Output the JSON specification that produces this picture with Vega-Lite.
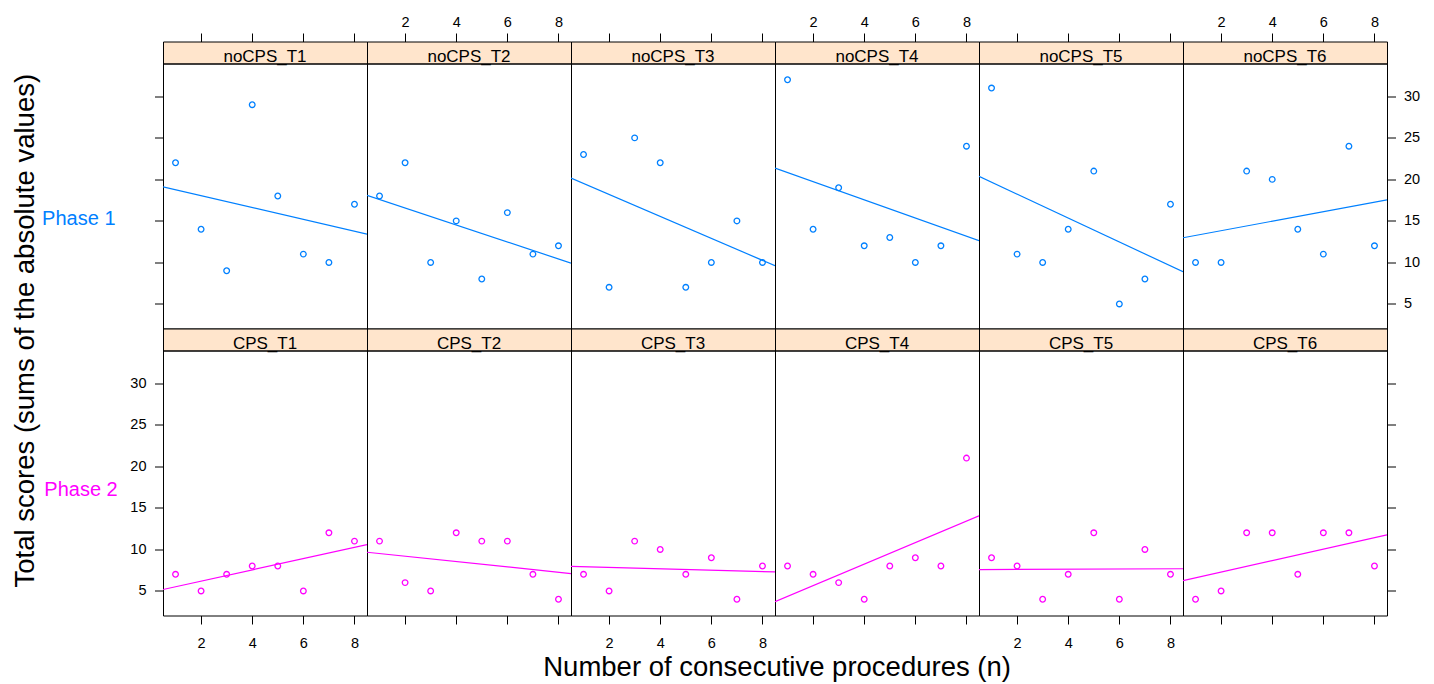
{
  "$schema": "https://vega.github.io/schema/vega-lite/v6.json",
  "padding": {"left": 11, "top": 13.5, "right": 5, "bottom": 5},
  "background": "white",
  "spacing": 0,
  "columns": 6,
  "bounds": "flush",
  "align": "each",
  "datasets": {
    "scores": [
      {"panel": "noCPS_T1", "x": 1, "y": 22}, {"panel": "noCPS_T1", "x": 2, "y": 14}, {"panel": "noCPS_T1", "x": 3, "y": 9}, {"panel": "noCPS_T1", "x": 4, "y": 29},
      {"panel": "noCPS_T1", "x": 5, "y": 18}, {"panel": "noCPS_T1", "x": 6, "y": 11}, {"panel": "noCPS_T1", "x": 7, "y": 10}, {"panel": "noCPS_T1", "x": 8, "y": 17},
      {"panel": "noCPS_T2", "x": 1, "y": 18}, {"panel": "noCPS_T2", "x": 2, "y": 22}, {"panel": "noCPS_T2", "x": 3, "y": 10}, {"panel": "noCPS_T2", "x": 4, "y": 15},
      {"panel": "noCPS_T2", "x": 5, "y": 8}, {"panel": "noCPS_T2", "x": 6, "y": 16}, {"panel": "noCPS_T2", "x": 7, "y": 11}, {"panel": "noCPS_T2", "x": 8, "y": 12},
      {"panel": "noCPS_T3", "x": 1, "y": 23}, {"panel": "noCPS_T3", "x": 2, "y": 7}, {"panel": "noCPS_T3", "x": 3, "y": 25}, {"panel": "noCPS_T3", "x": 4, "y": 22},
      {"panel": "noCPS_T3", "x": 5, "y": 7}, {"panel": "noCPS_T3", "x": 6, "y": 10}, {"panel": "noCPS_T3", "x": 7, "y": 15}, {"panel": "noCPS_T3", "x": 8, "y": 10},
      {"panel": "noCPS_T4", "x": 1, "y": 32}, {"panel": "noCPS_T4", "x": 2, "y": 14}, {"panel": "noCPS_T4", "x": 3, "y": 19}, {"panel": "noCPS_T4", "x": 4, "y": 12},
      {"panel": "noCPS_T4", "x": 5, "y": 13}, {"panel": "noCPS_T4", "x": 6, "y": 10}, {"panel": "noCPS_T4", "x": 7, "y": 12}, {"panel": "noCPS_T4", "x": 8, "y": 24},
      {"panel": "noCPS_T5", "x": 1, "y": 31}, {"panel": "noCPS_T5", "x": 2, "y": 11}, {"panel": "noCPS_T5", "x": 3, "y": 10}, {"panel": "noCPS_T5", "x": 4, "y": 14},
      {"panel": "noCPS_T5", "x": 5, "y": 21}, {"panel": "noCPS_T5", "x": 6, "y": 5}, {"panel": "noCPS_T5", "x": 7, "y": 8}, {"panel": "noCPS_T5", "x": 8, "y": 17},
      {"panel": "noCPS_T6", "x": 1, "y": 10}, {"panel": "noCPS_T6", "x": 2, "y": 10}, {"panel": "noCPS_T6", "x": 3, "y": 21}, {"panel": "noCPS_T6", "x": 4, "y": 20},
      {"panel": "noCPS_T6", "x": 5, "y": 14}, {"panel": "noCPS_T6", "x": 6, "y": 11}, {"panel": "noCPS_T6", "x": 7, "y": 24}, {"panel": "noCPS_T6", "x": 8, "y": 12},
      {"panel": "CPS_T1", "x": 1, "y": 7}, {"panel": "CPS_T1", "x": 2, "y": 5}, {"panel": "CPS_T1", "x": 3, "y": 7}, {"panel": "CPS_T1", "x": 4, "y": 8},
      {"panel": "CPS_T1", "x": 5, "y": 8}, {"panel": "CPS_T1", "x": 6, "y": 5}, {"panel": "CPS_T1", "x": 7, "y": 12}, {"panel": "CPS_T1", "x": 8, "y": 11},
      {"panel": "CPS_T2", "x": 1, "y": 11}, {"panel": "CPS_T2", "x": 2, "y": 6}, {"panel": "CPS_T2", "x": 3, "y": 5}, {"panel": "CPS_T2", "x": 4, "y": 12},
      {"panel": "CPS_T2", "x": 5, "y": 11}, {"panel": "CPS_T2", "x": 6, "y": 11}, {"panel": "CPS_T2", "x": 7, "y": 7}, {"panel": "CPS_T2", "x": 8, "y": 4},
      {"panel": "CPS_T3", "x": 1, "y": 7}, {"panel": "CPS_T3", "x": 2, "y": 5}, {"panel": "CPS_T3", "x": 3, "y": 11}, {"panel": "CPS_T3", "x": 4, "y": 10},
      {"panel": "CPS_T3", "x": 5, "y": 7}, {"panel": "CPS_T3", "x": 6, "y": 9}, {"panel": "CPS_T3", "x": 7, "y": 4}, {"panel": "CPS_T3", "x": 8, "y": 8},
      {"panel": "CPS_T4", "x": 1, "y": 8}, {"panel": "CPS_T4", "x": 2, "y": 7}, {"panel": "CPS_T4", "x": 3, "y": 6}, {"panel": "CPS_T4", "x": 4, "y": 4},
      {"panel": "CPS_T4", "x": 5, "y": 8}, {"panel": "CPS_T4", "x": 6, "y": 9}, {"panel": "CPS_T4", "x": 7, "y": 8}, {"panel": "CPS_T4", "x": 8, "y": 21},
      {"panel": "CPS_T5", "x": 1, "y": 9}, {"panel": "CPS_T5", "x": 2, "y": 8}, {"panel": "CPS_T5", "x": 3, "y": 4}, {"panel": "CPS_T5", "x": 4, "y": 7},
      {"panel": "CPS_T5", "x": 5, "y": 12}, {"panel": "CPS_T5", "x": 6, "y": 4}, {"panel": "CPS_T5", "x": 7, "y": 10}, {"panel": "CPS_T5", "x": 8, "y": 7},
      {"panel": "CPS_T6", "x": 1, "y": 4}, {"panel": "CPS_T6", "x": 2, "y": 5}, {"panel": "CPS_T6", "x": 3, "y": 12}, {"panel": "CPS_T6", "x": 4, "y": 12},
      {"panel": "CPS_T6", "x": 5, "y": 7}, {"panel": "CPS_T6", "x": 6, "y": 12}, {"panel": "CPS_T6", "x": 7, "y": 12}, {"panel": "CPS_T6", "x": 8, "y": 8}
    ]
  },
  "concat": [
    {"width": 204, "height": 22, "view": {"fill": "#ffe5cc", "stroke": "black"}, "data": {"values": [{"label": "noCPS_T1"}]}, "mark": {"type": "text", "baseline": "alphabetic", "dy": 9},
     "encoding": {"text": {"field": "label"},
       "x": {"datum": 4.5, "type": "quantitative", "scale": {"domain": [0.51, 8.49], "nice": false, "zero": false}, "axis": {"orient": "top", "values": [2, 4, 6, 8], "labels": false, "title": null}},
       "y": {"datum": 1, "type": "quantitative", "scale": {"domain": [0, 2], "nice": false, "zero": false}, "axis": {"orient": "left", "ticks": false, "labels": false, "title": "Total scores (sums of the absolute values)", "titleAngle": -90, "titleX": -129.4, "titleY": 288.7, "titleAlign": "center", "titleBaseline": "alphabetic", "titleFontSize": 27.5}}}},
    {"width": 204, "height": 22, "view": {"fill": "#ffe5cc", "stroke": "black"}, "data": {"values": [{"label": "noCPS_T2"}]}, "mark": {"type": "text", "baseline": "alphabetic", "dy": 9},
     "encoding": {"text": {"field": "label"}, "x": {"datum": 4.5, "type": "quantitative", "scale": {"domain": [0.51, 8.49], "nice": false, "zero": false}, "axis": {"orient": "top", "values": [2, 4, 6, 8], "title": null}}}},
    {"width": 204, "height": 22, "view": {"fill": "#ffe5cc", "stroke": "black"}, "data": {"values": [{"label": "noCPS_T3"}]}, "mark": {"type": "text", "baseline": "alphabetic", "dy": 9},
     "encoding": {"text": {"field": "label"}, "x": {"datum": 4.5, "type": "quantitative", "scale": {"domain": [0.51, 8.49], "nice": false, "zero": false}, "axis": {"orient": "top", "values": [2, 4, 6, 8], "labels": false, "title": null}}}},
    {"width": 204, "height": 22, "view": {"fill": "#ffe5cc", "stroke": "black"}, "data": {"values": [{"label": "noCPS_T4"}]}, "mark": {"type": "text", "baseline": "alphabetic", "dy": 9},
     "encoding": {"text": {"field": "label"}, "x": {"datum": 4.5, "type": "quantitative", "scale": {"domain": [0.51, 8.49], "nice": false, "zero": false}, "axis": {"orient": "top", "values": [2, 4, 6, 8], "title": null}}}},
    {"width": 204, "height": 22, "view": {"fill": "#ffe5cc", "stroke": "black"}, "data": {"values": [{"label": "noCPS_T5"}]}, "mark": {"type": "text", "baseline": "alphabetic", "dy": 9},
     "encoding": {"text": {"field": "label"}, "x": {"datum": 4.5, "type": "quantitative", "scale": {"domain": [0.51, 8.49], "nice": false, "zero": false}, "axis": {"orient": "top", "values": [2, 4, 6, 8], "labels": false, "title": null}}}},
    {"width": 204, "height": 22, "view": {"fill": "#ffe5cc", "stroke": "black"}, "data": {"values": [{"label": "noCPS_T6"}]}, "mark": {"type": "text", "baseline": "alphabetic", "dy": 9},
     "encoding": {"text": {"field": "label"}, "x": {"datum": 4.5, "type": "quantitative", "scale": {"domain": [0.51, 8.49], "nice": false, "zero": false}, "axis": {"orient": "top", "values": [2, 4, 6, 8], "title": null}}}},

    {"width": 204, "height": 265, "data": {"name": "scores"}, "transform": [{"filter": "datum.panel === 'noCPS_T1'"}],
     "encoding": {"x": {"field": "x", "type": "quantitative", "scale": {"domain": [0.51, 8.49], "nice": false, "zero": false}, "axis": null},
       "y": {"field": "y", "type": "quantitative", "scale": {"domain": [2.04, 33.96], "nice": false, "zero": false}, "axis": {"orient": "left", "values": [5, 10, 15, 20, 25, 30], "labels": false, "title": "Phase 1", "titleAngle": 0, "titleX": -84.7, "titleY": 160.7, "titleAlign": "center", "titleBaseline": "alphabetic", "titleFontSize": 20, "titleColor": "#0080ff"}}},
     "layer": [{"mark": {"type": "point", "color": "#0080ff"}}, {"transform": [{"regression": "y", "on": "x", "extent": [0.51, 8.49]}], "mark": {"type": "line", "color": "#0080ff", "clip": true}, "encoding": {}}]},
    {"width": 204, "height": 265, "data": {"name": "scores"}, "transform": [{"filter": "datum.panel === 'noCPS_T2'"}],
     "encoding": {"x": {"field": "x", "type": "quantitative", "scale": {"domain": [0.51, 8.49], "nice": false, "zero": false}, "axis": null},
       "y": {"field": "y", "type": "quantitative", "scale": {"domain": [2.04, 33.96], "nice": false, "zero": false}, "axis": null}},
     "layer": [{"mark": {"type": "point", "color": "#0080ff"}}, {"transform": [{"regression": "y", "on": "x", "extent": [0.51, 8.49]}], "mark": {"type": "line", "color": "#0080ff", "clip": true}, "encoding": {}}]},
    {"width": 204, "height": 265, "data": {"name": "scores"}, "transform": [{"filter": "datum.panel === 'noCPS_T3'"}],
     "encoding": {"x": {"field": "x", "type": "quantitative", "scale": {"domain": [0.51, 8.49], "nice": false, "zero": false}, "axis": null},
       "y": {"field": "y", "type": "quantitative", "scale": {"domain": [2.04, 33.96], "nice": false, "zero": false}, "axis": null}},
     "layer": [{"mark": {"type": "point", "color": "#0080ff"}}, {"transform": [{"regression": "y", "on": "x", "extent": [0.51, 8.49]}], "mark": {"type": "line", "color": "#0080ff", "clip": true}, "encoding": {}}]},
    {"width": 204, "height": 265, "data": {"name": "scores"}, "transform": [{"filter": "datum.panel === 'noCPS_T4'"}],
     "encoding": {"x": {"field": "x", "type": "quantitative", "scale": {"domain": [0.51, 8.49], "nice": false, "zero": false}, "axis": null},
       "y": {"field": "y", "type": "quantitative", "scale": {"domain": [2.04, 33.96], "nice": false, "zero": false}, "axis": null}},
     "layer": [{"mark": {"type": "point", "color": "#0080ff"}}, {"transform": [{"regression": "y", "on": "x", "extent": [0.51, 8.49]}], "mark": {"type": "line", "color": "#0080ff", "clip": true}, "encoding": {}}]},
    {"width": 204, "height": 265, "data": {"name": "scores"}, "transform": [{"filter": "datum.panel === 'noCPS_T5'"}],
     "encoding": {"x": {"field": "x", "type": "quantitative", "scale": {"domain": [0.51, 8.49], "nice": false, "zero": false}, "axis": null},
       "y": {"field": "y", "type": "quantitative", "scale": {"domain": [2.04, 33.96], "nice": false, "zero": false}, "axis": null}},
     "layer": [{"mark": {"type": "point", "color": "#0080ff"}}, {"transform": [{"regression": "y", "on": "x", "extent": [0.51, 8.49]}], "mark": {"type": "line", "color": "#0080ff", "clip": true}, "encoding": {}}]},
    {"width": 204, "height": 265, "data": {"name": "scores"}, "transform": [{"filter": "datum.panel === 'noCPS_T6'"}],
     "encoding": {"x": {"field": "x", "type": "quantitative", "scale": {"domain": [0.51, 8.49], "nice": false, "zero": false}, "axis": null},
       "y": {"field": "y", "type": "quantitative", "scale": {"domain": [2.04, 33.96], "nice": false, "zero": false}, "axis": {"orient": "right", "values": [5, 10, 15, 20, 25, 30], "title": null}}},
     "layer": [{"mark": {"type": "point", "color": "#0080ff"}}, {"transform": [{"regression": "y", "on": "x", "extent": [0.51, 8.49]}], "mark": {"type": "line", "color": "#0080ff", "clip": true}, "encoding": {}}]},

    {"width": 204, "height": 22, "view": {"fill": "#ffe5cc", "stroke": "black"}, "data": {"values": [{"label": "CPS_T1"}]}, "mark": {"type": "text", "baseline": "alphabetic", "dy": 9},
     "encoding": {"text": {"field": "label"}, "x": {"datum": 4.5, "type": "quantitative", "scale": {"domain": [0.51, 8.49], "nice": false, "zero": false}, "axis": null}}},
    {"width": 204, "height": 22, "view": {"fill": "#ffe5cc", "stroke": "black"}, "data": {"values": [{"label": "CPS_T2"}]}, "mark": {"type": "text", "baseline": "alphabetic", "dy": 9},
     "encoding": {"text": {"field": "label"}, "x": {"datum": 4.5, "type": "quantitative", "scale": {"domain": [0.51, 8.49], "nice": false, "zero": false}, "axis": null}}},
    {"width": 204, "height": 22, "view": {"fill": "#ffe5cc", "stroke": "black"}, "data": {"values": [{"label": "CPS_T3"}]}, "mark": {"type": "text", "baseline": "alphabetic", "dy": 9},
     "encoding": {"text": {"field": "label"}, "x": {"datum": 4.5, "type": "quantitative", "scale": {"domain": [0.51, 8.49], "nice": false, "zero": false}, "axis": null}}},
    {"width": 204, "height": 22, "view": {"fill": "#ffe5cc", "stroke": "black"}, "data": {"values": [{"label": "CPS_T4"}]}, "mark": {"type": "text", "baseline": "alphabetic", "dy": 9},
     "encoding": {"text": {"field": "label"}, "x": {"datum": 4.5, "type": "quantitative", "scale": {"domain": [0.51, 8.49], "nice": false, "zero": false}, "axis": null}}},
    {"width": 204, "height": 22, "view": {"fill": "#ffe5cc", "stroke": "black"}, "data": {"values": [{"label": "CPS_T5"}]}, "mark": {"type": "text", "baseline": "alphabetic", "dy": 9},
     "encoding": {"text": {"field": "label"}, "x": {"datum": 4.5, "type": "quantitative", "scale": {"domain": [0.51, 8.49], "nice": false, "zero": false}, "axis": null}}},
    {"width": 204, "height": 22, "view": {"fill": "#ffe5cc", "stroke": "black"}, "data": {"values": [{"label": "CPS_T6"}]}, "mark": {"type": "text", "baseline": "alphabetic", "dy": 9},
     "encoding": {"text": {"field": "label"}, "x": {"datum": 4.5, "type": "quantitative", "scale": {"domain": [0.51, 8.49], "nice": false, "zero": false}, "axis": null}}},

    {"width": 204, "height": 265, "data": {"name": "scores"}, "transform": [{"filter": "datum.panel === 'CPS_T1'"}],
     "encoding": {"x": {"field": "x", "type": "quantitative", "scale": {"domain": [0.51, 8.49], "nice": false, "zero": false}, "axis": {"orient": "bottom", "values": [2, 4, 6, 8], "title": null}},
       "y": {"field": "y", "type": "quantitative", "scale": {"domain": [2.04, 33.96], "nice": false, "zero": false}, "axis": {"orient": "left", "values": [5, 10, 15, 20, 25, 30], "title": "Phase 2", "titleAngle": 0, "titleX": -82.5, "titleY": 144.7, "titleAlign": "center", "titleBaseline": "alphabetic", "titleFontSize": 20, "titleColor": "#ff00ff"}}},
     "layer": [{"mark": {"type": "point", "color": "#ff00ff"}}, {"transform": [{"regression": "y", "on": "x", "extent": [0.51, 8.49]}], "mark": {"type": "line", "color": "#ff00ff", "clip": true}, "encoding": {}}]},
    {"width": 204, "height": 265, "data": {"name": "scores"}, "transform": [{"filter": "datum.panel === 'CPS_T2'"}],
     "encoding": {"x": {"field": "x", "type": "quantitative", "scale": {"domain": [0.51, 8.49], "nice": false, "zero": false}, "axis": {"orient": "bottom", "values": [2, 4, 6, 8], "labels": false, "title": null}},
       "y": {"field": "y", "type": "quantitative", "scale": {"domain": [2.04, 33.96], "nice": false, "zero": false}, "axis": null}},
     "layer": [{"mark": {"type": "point", "color": "#ff00ff"}}, {"transform": [{"regression": "y", "on": "x", "extent": [0.51, 8.49]}], "mark": {"type": "line", "color": "#ff00ff", "clip": true}, "encoding": {}}]},
    {"width": 204, "height": 265, "data": {"name": "scores"}, "transform": [{"filter": "datum.panel === 'CPS_T3'"}],
     "encoding": {"x": {"field": "x", "type": "quantitative", "scale": {"domain": [0.51, 8.49], "nice": false, "zero": false}, "axis": {"orient": "bottom", "values": [2, 4, 6, 8], "title": null}},
       "y": {"field": "y", "type": "quantitative", "scale": {"domain": [2.04, 33.96], "nice": false, "zero": false}, "axis": null}},
     "layer": [{"mark": {"type": "point", "color": "#ff00ff"}}, {"transform": [{"regression": "y", "on": "x", "extent": [0.51, 8.49]}], "mark": {"type": "line", "color": "#ff00ff", "clip": true}, "encoding": {}}]},
    {"width": 204, "height": 265, "data": {"name": "scores"}, "transform": [{"filter": "datum.panel === 'CPS_T4'"}],
     "encoding": {"x": {"field": "x", "type": "quantitative", "scale": {"domain": [0.51, 8.49], "nice": false, "zero": false}, "axis": {"orient": "bottom", "values": [2, 4, 6, 8], "labels": false, "title": "Number of consecutive procedures (n)", "titleX": 1.6, "titleY": 60.3, "titleAlign": "center", "titleBaseline": "alphabetic", "titleFontSize": 27.5}},
       "y": {"field": "y", "type": "quantitative", "scale": {"domain": [2.04, 33.96], "nice": false, "zero": false}, "axis": null}},
     "layer": [{"mark": {"type": "point", "color": "#ff00ff"}}, {"transform": [{"regression": "y", "on": "x", "extent": [0.51, 8.49]}], "mark": {"type": "line", "color": "#ff00ff", "clip": true}, "encoding": {}}]},
    {"width": 204, "height": 265, "data": {"name": "scores"}, "transform": [{"filter": "datum.panel === 'CPS_T5'"}],
     "encoding": {"x": {"field": "x", "type": "quantitative", "scale": {"domain": [0.51, 8.49], "nice": false, "zero": false}, "axis": {"orient": "bottom", "values": [2, 4, 6, 8], "title": null}},
       "y": {"field": "y", "type": "quantitative", "scale": {"domain": [2.04, 33.96], "nice": false, "zero": false}, "axis": null}},
     "layer": [{"mark": {"type": "point", "color": "#ff00ff"}}, {"transform": [{"regression": "y", "on": "x", "extent": [0.51, 8.49]}], "mark": {"type": "line", "color": "#ff00ff", "clip": true}, "encoding": {}}]},
    {"width": 204, "height": 265, "data": {"name": "scores"}, "transform": [{"filter": "datum.panel === 'CPS_T6'"}],
     "encoding": {"x": {"field": "x", "type": "quantitative", "scale": {"domain": [0.51, 8.49], "nice": false, "zero": false}, "axis": {"orient": "bottom", "values": [2, 4, 6, 8], "labels": false, "title": null}},
       "y": {"field": "y", "type": "quantitative", "scale": {"domain": [2.04, 33.96], "nice": false, "zero": false}, "axis": {"orient": "right", "values": [5, 10, 15, 20, 25, 30], "labels": false, "title": null}}},
     "layer": [{"mark": {"type": "point", "color": "#ff00ff"}}, {"transform": [{"regression": "y", "on": "x", "extent": [0.51, 8.49]}], "mark": {"type": "line", "color": "#ff00ff", "clip": true}, "encoding": {}}]}
  ],
  "config": {
    "view": {"stroke": "black", "strokeWidth": 1},
    "font": "Liberation Sans",
    "axis": {"domain": false, "grid": false, "ticks": true, "tickColor": "black", "tickSize": 8.5, "tickWidth": 1,
      "labelFont": "Liberation Sans", "labelFontSize": 14.5, "labelColor": "black", "labelFlush": false, "labelOverlap": false, "labelBound": false,
      "titleFont": "Liberation Sans", "titleFontWeight": "normal", "titleColor": "black"},
    "axisTop": {"labelPadding": 4},
    "axisBottom": {"labelPadding": 12},
    "axisLeft": {"labelPadding": 8.5},
    "axisRight": {"labelPadding": 8},
    "text": {"font": "Liberation Sans", "fontSize": 17, "color": "black"},
    "point": {"shape": "circle", "filled": false, "size": 32, "strokeWidth": 1.3, "opacity": 1},
    "line": {"strokeWidth": 1.2}
  }
}
